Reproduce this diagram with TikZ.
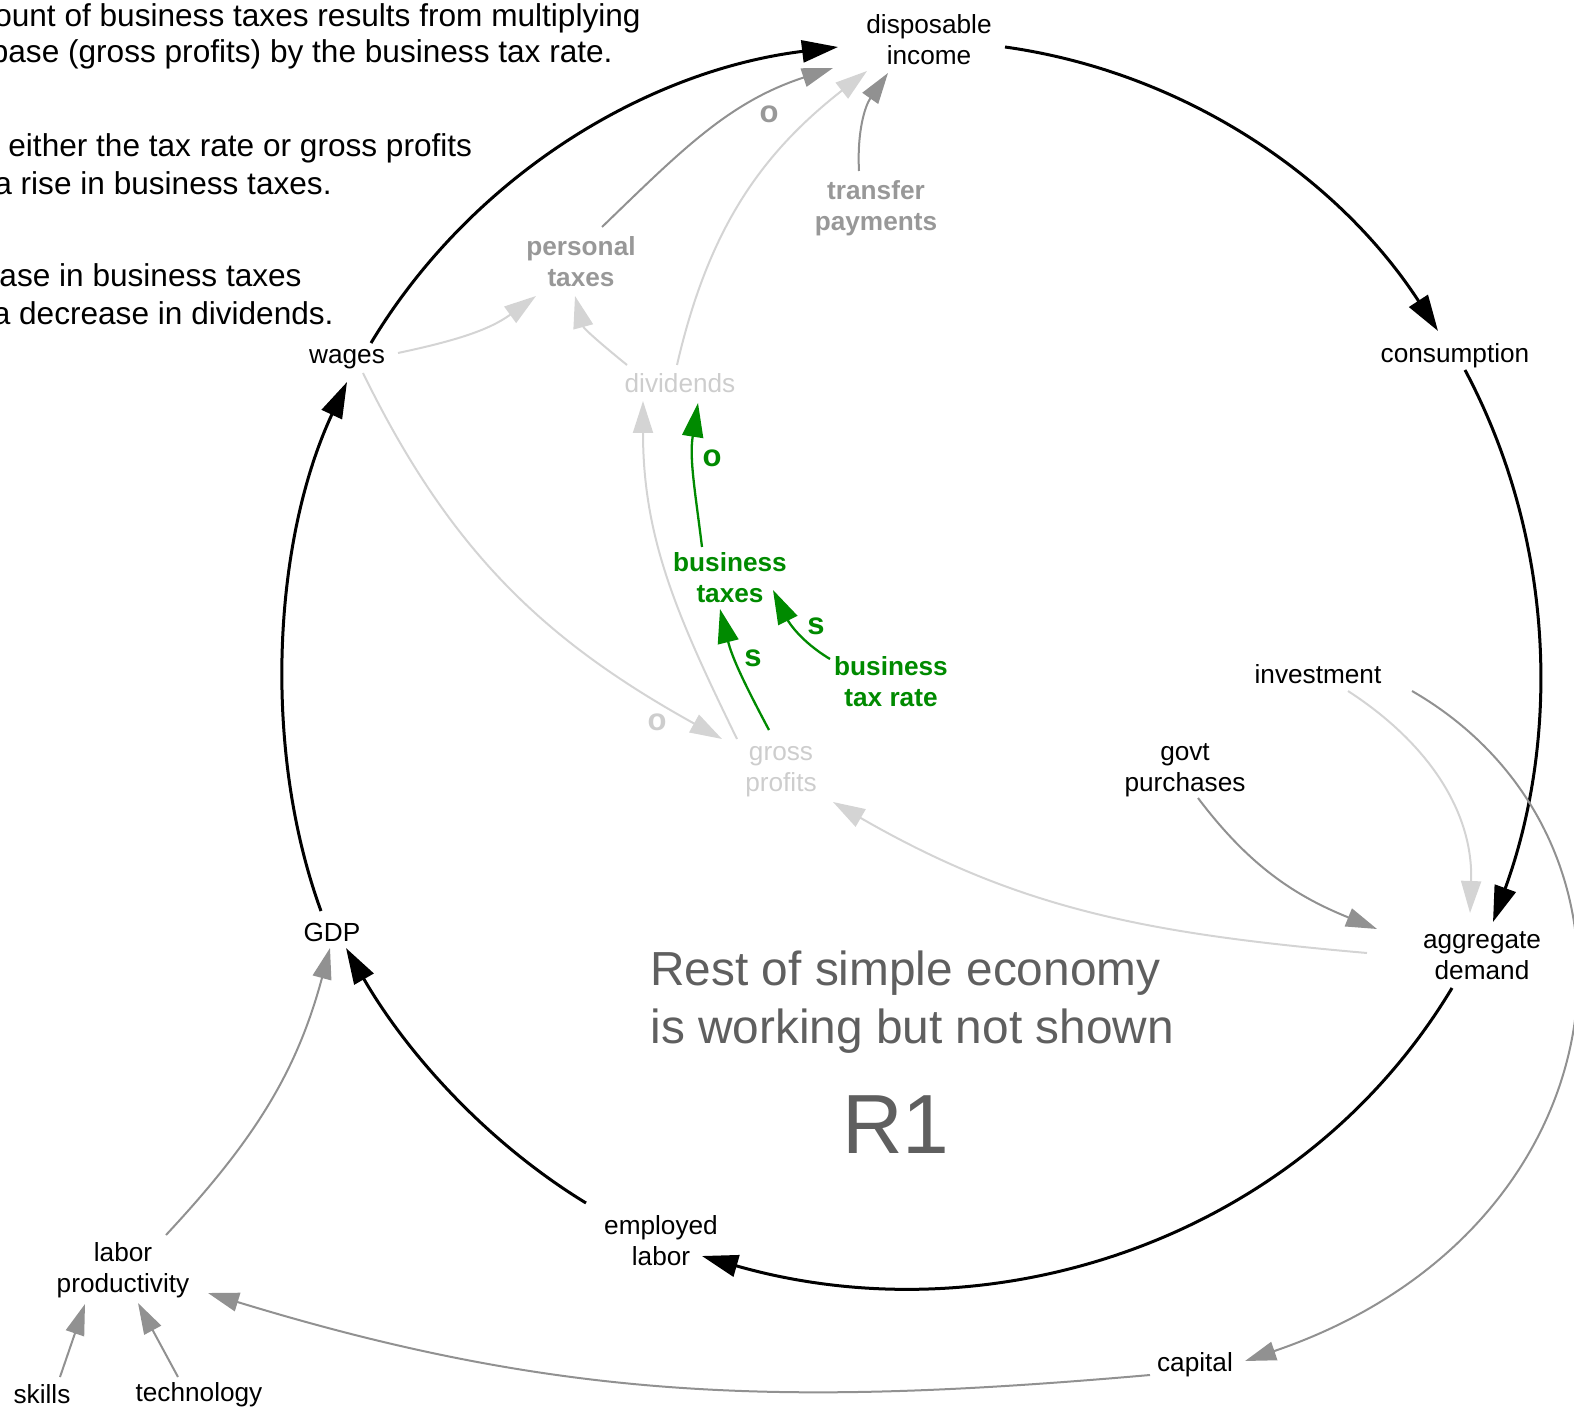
\documentclass[tikz,border=0pt]{standalone}
\usepackage{fontspec}
\setmainfont{Liberation Sans}
\usetikzlibrary{arrows.meta,calc}

\definecolor{midgray}{RGB}{145,145,145}
\definecolor{paleline}{RGB}{212,212,212}
\definecolor{paletext}{RGB}{205,205,205}
\definecolor{tagtext}{RGB}{152,152,152}
\definecolor{loopgreen}{RGB}{0,138,0}
\definecolor{notegray}{RGB}{95,95,95}

\begin{document}
\begin{tikzpicture}[x=0.5pt,y=-0.5pt,
  var/.style={font=\fontsize{13.1}{15.5}\selectfont, align=center, inner sep=0pt},
  tagvar/.style={var, font=\fontsize{13.1}{15.5}\selectfont\bfseries, text=tagtext},
  palevar/.style={var, text=paletext},
  greenvar/.style={var, font=\fontsize{13.1}{15.5}\selectfont\bfseries, text=loopgreen},
  note/.style={font=\fontsize{15.8}{19}\selectfont, inner sep=0pt},
  bignote/.style={font=\fontsize{23.9}{28.5}\selectfont, text=notegray, inner sep=0pt},
  polarity/.style={font=\fontsize{15.5}{18}\selectfont\bfseries, inner sep=0pt},
  mainlink/.style={line width=1.5pt, -{Triangle[length=18pt,width=11pt]}},
  midlink/.style={line width=1pt, draw=midgray, -{Triangle[length=15.5pt,width=9.5pt]}},
  palelink/.style={line width=1pt, draw=paleline, -{Triangle[length=16pt,width=10pt]}},
  greenlink/.style={line width=1.15pt, draw=loopgreen, -{Triangle[length=17pt,width=10.5pt]}},
]
\useasboundingbox (0,0) rectangle (1574,1411);

% explanatory notes (left edge runs off the page)
\node[note, anchor=base east] (noteA1) at (641,27) {ount of business taxes results from multiplying};
\node[note, anchor=base east] (noteA2) at (613,63) {base (gross profits) by the business tax rate.};
\node[note, anchor=base west] (noteB1) at (8,157) {either the tax rate or gross profits};
\node[note, anchor=base east] (noteB2) at (332,195) {a rise in business taxes.};
\node[note, anchor=base east] (noteC1) at (302,287) {ase in business taxes};
\node[note, anchor=base east] (noteC2) at (334,325) {a decrease in dividends.};

% variables
\node[var] (dispinc) at (929,40) {disposable\\income};
\node[var] (consumption) at (1455,356) {consumption};
\node[var] (aggdemand) at (1482,956) {aggregate\\demand};
\node[var] (emplabor) at (661,1241) {employed\\labor};
\node[var] (gdp) at (332,932) {GDP};
\node[var] (wages) at (347,359) {wages};
\node[tagvar] (perstax) at (581,262) {personal\\taxes};
\node[tagvar] (transfer) at (876,208) {transfer\\payments};
\node[palevar] (dividends) at (680,383) {dividends};
\node[greenvar] (biztax) at (730,578) {business\\taxes};
\node[greenvar] (bizrate) at (891,682) {business\\tax rate};
\node[palevar] (grossprof) at (781,772) {gross\\profits};
\node[var] (investment) at (1318,674) {investment};
\node[var] (govt) at (1185,770) {govt\\purchases};
\node[var] (capital) at (1195,1365) {capital};
\node[var] (laborprod) at (123,1270) {labor\\productivity};
\node[var] (skills) at (42,1394) {skills};
\node[var] (technology) at (199,1395) {technology};

% loop caption
\node[bignote, anchor=base west] (restA) at (650,985) {Rest of simple economy};
\node[bignote, anchor=base west] (restB) at (650,1043) {is working but not shown};
\node[font=\fontsize{42}{48}\selectfont, text=notegray, inner sep=0pt, anchor=base] (loopname) at (896,1153) {R1};

% reinforcing loop R1
\draw[mainlink] ($(wages)+(24,-16)$) to[out=59,in=187,looseness=0.9] ($(dispinc)+(-91,7)$);
\draw[mainlink] ($(dispinc)+(76,7)$) to[out=-8,in=123,looseness=0.9] ($(consumption)+(-17,-25)$);
\draw[mainlink] ($(consumption)+(10,14)$) to[out=-62,in=70,looseness=0.9] ($(aggdemand)+(11,-34)$);
\draw[mainlink] ($(aggdemand)+(-30,32)$) to[out=-121,in=-16,looseness=0.96] ($(emplabor)+(41,15)$);
\draw[mainlink] ($(emplabor)+(-75,-38)$) to[out=148.6,in=-60,looseness=0.87] ($(gdp)+(14,16)$);
\draw[mainlink] ($(gdp)+(-11,-21)$) to[out=110,in=245,looseness=0.84] ($(wages)+(0,23)$);

% income side
\draw[midlink] ($(perstax)+(21,-35)$) to[out=44,in=198] ($(dispinc)+(-96,28)$);
\draw[midlink] ($(transfer)+(-17,-37)$) to[out=93,in=235] ($(dispinc)+(-41,33)$);
\draw[palelink] ($(dividends)+(-3,-18)$) to[out=77,in=218] ($(dispinc)+(-62,31)$);
\draw[palelink] ($(wages)+(51,-6)$) to[out=12,in=216] ($(perstax)+(-45,34)$);
\draw[palelink] ($(dividends)+(-53,-18)$) to[out=141,in=285] ($(perstax)+(-6,34)$);
\draw[palelink] ($(wages)+(16,14)$) to[out=-64,in=151] ($(grossprof)+(-59,-33)$);
\draw[palelink] ($(grossprof)+(-44,-33)$) to[out=116,in=270] ($(dividends)+(-37,18)$);

% business tax links
\draw[greenlink] ($(biztax)+(-28,-31)$) to[out=97,in=261] ($(dividends)+(18,20)$);
\draw[greenlink] ($(grossprof)+(-12,-42)$) to[out=118,in=284] ($(biztax)+(-10,31)$);
\draw[greenlink] ($(bizrate)+(-61,-23)$) to[out=149,in=296] ($(biztax)+(43,12)$);

% demand side
\draw[palelink] ($(aggdemand)+(-115,-3)$) to[out=175,in=330] ($(grossprof)+(52,30)$);
\draw[palelink] ($(investment)+(30,17)$) to[out=-33,in=88] ($(aggdemand)+(-12,-43)$);
\draw[midlink] ($(govt)+(13,28)$) to[out=-53,in=158] ($(aggdemand)+(-105,-27)$);
\draw[midlink] ($(investment)+(94,17)$) .. controls +(258,149) and +(385,-131) .. ($(capital)+(50,-4)$);

% supply side
\draw[midlink] ($(capital)+(-45,10)$) to[out=185,in=343] ($(laborprod)+(85,23)$);
\draw[midlink] ($(laborprod)+(43,-35)$) to[out=47,in=255] ($(gdp)+(-2,16)$);
\draw[midlink] ($(skills)+(18,-17)$) -- ($(laborprod)+(-38,34)$);
\draw[midlink] ($(technology)+(-21,-18)$) -- ($(laborprod)+(15,33)$);

% link polarities
\node[polarity, text=tagtext] (polPT) at (769,114) {o};
\node[polarity, text=paletext] (polWG) at (657,722) {o};
\node[polarity, text=loopgreen] (polBD) at (712,458) {o};
\node[polarity, text=loopgreen] (polGB) at (753,658) {s};
\node[polarity, text=loopgreen] (polRB) at (816,626) {s};
\end{tikzpicture}
\end{document}
